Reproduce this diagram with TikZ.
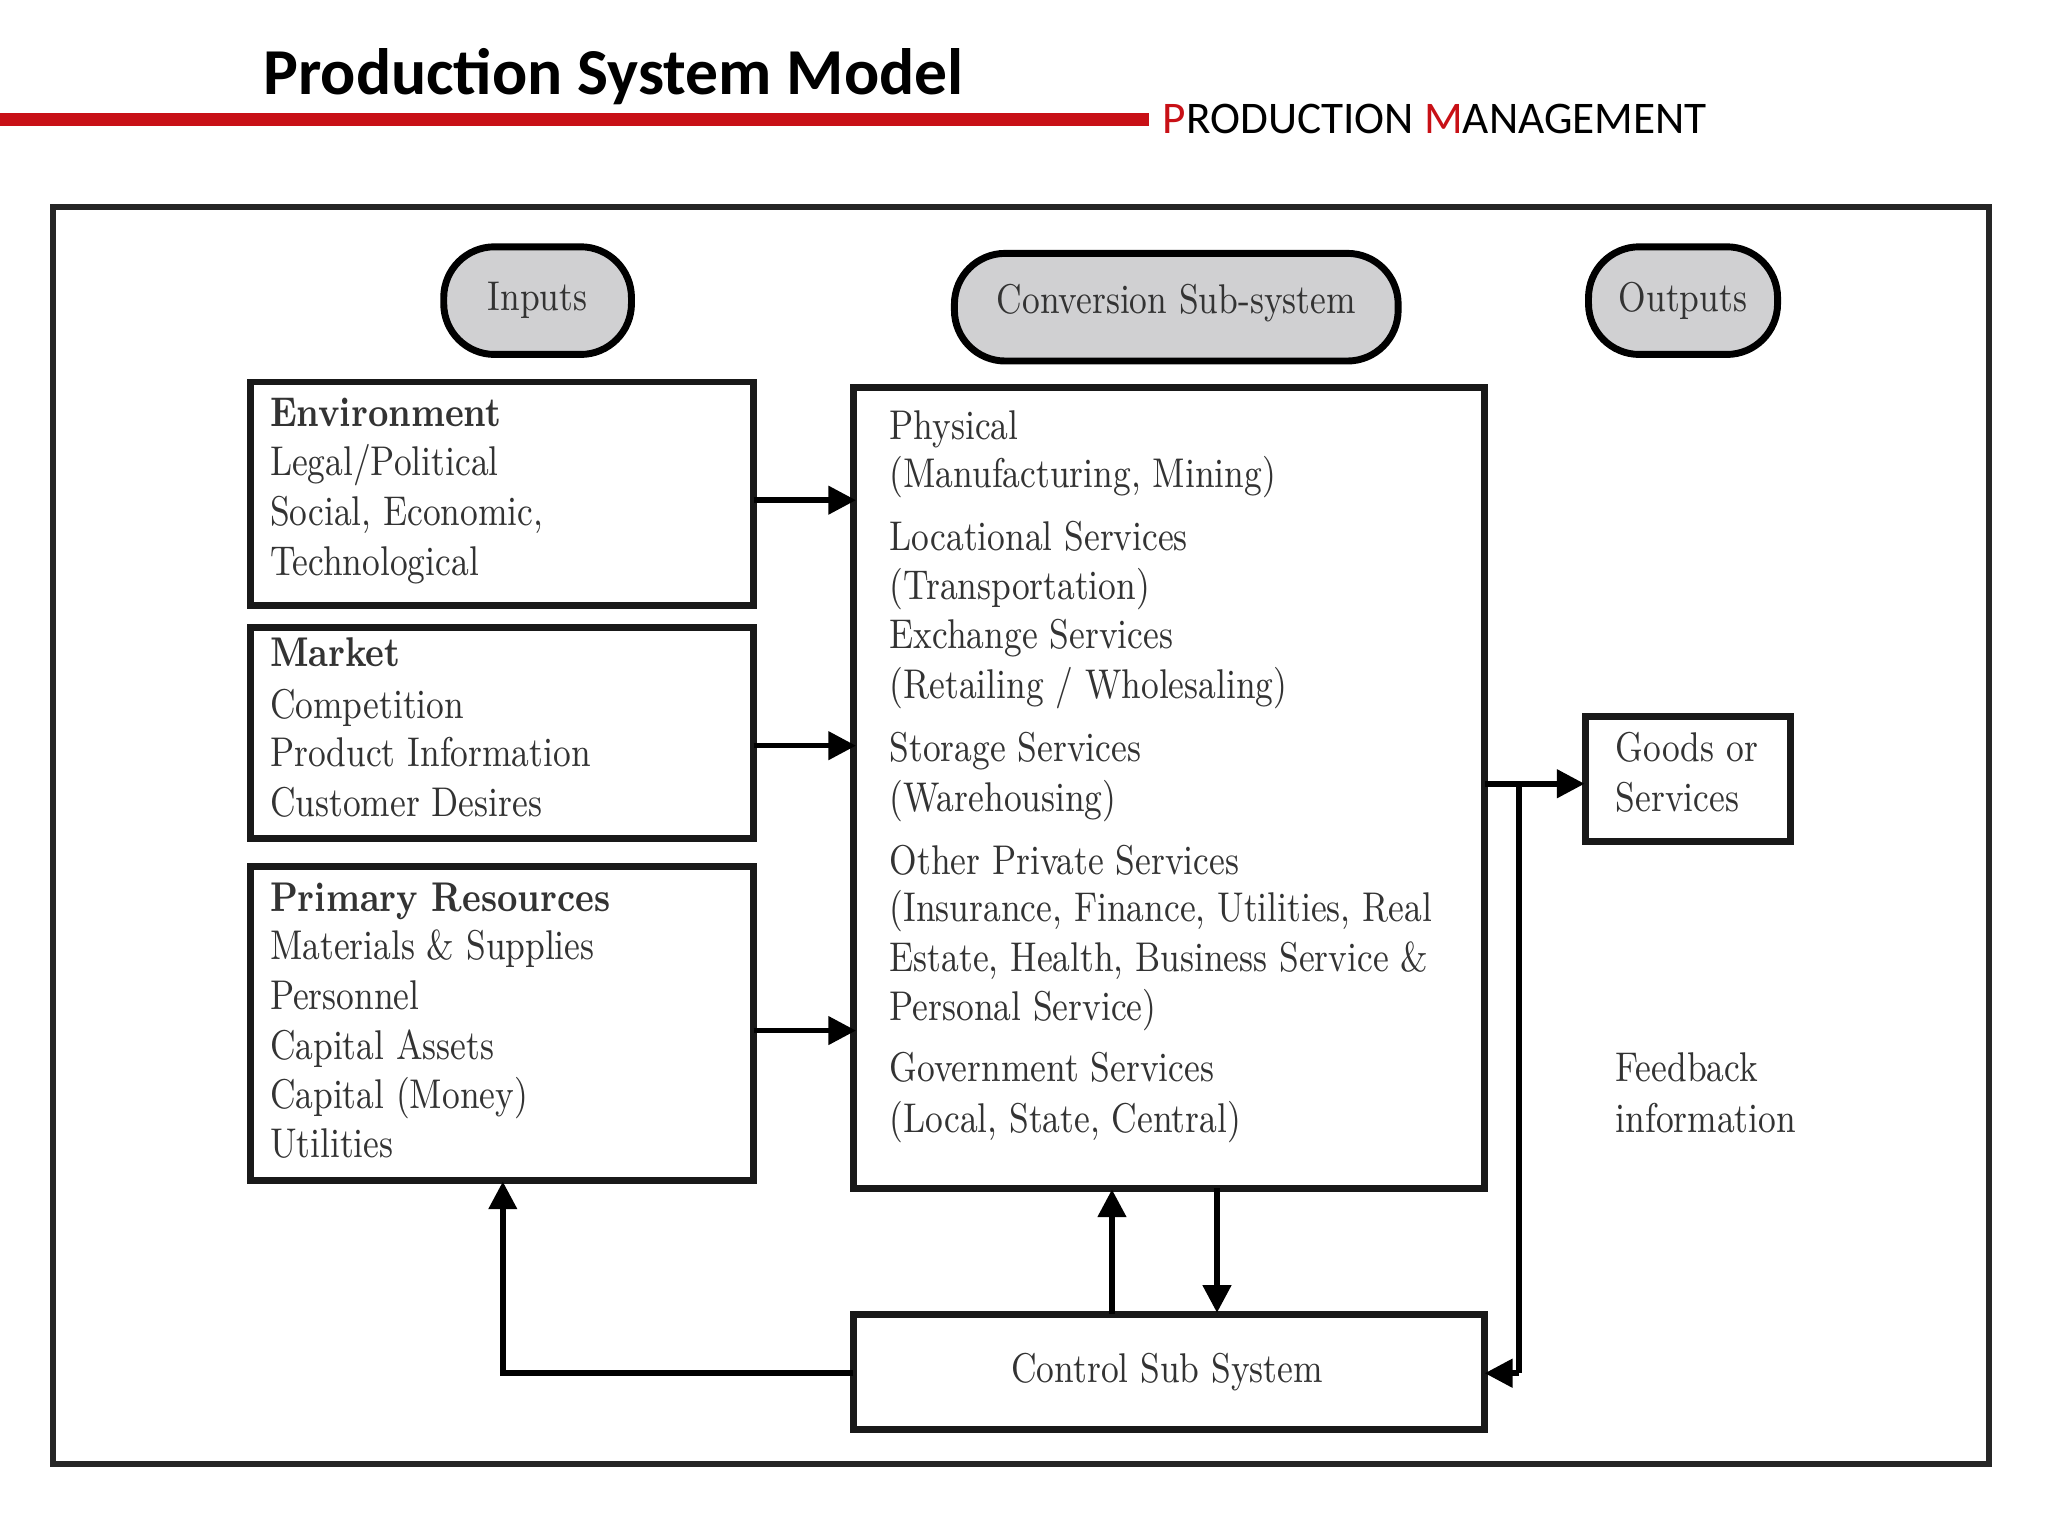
\documentclass[tikz,border=0pt]{standalone}
\usepackage{fontspec}
\newfontfamily\hdfont{Carlito}
\usetikzlibrary{arrows.meta}
\definecolor{hdred}{RGB}{200,16,22}
\definecolor{pill}{RGB}{208,208,210}
\newcommand\nt[1]{\scalebox{0.83}[1]{#1}}
\tikzset{
  box/.style={draw, line width=1.5pt, black!90},
  pillbox/.style={draw, line width=1.5pt, fill=pill, rounded corners=11pt},
  txt/.style={anchor=base west, inner sep=0pt, font=\fontsize{9}{10}\selectfont, text=black!80},
  btxt/.style={txt, font=\fontsize{9}{10}\selectfont\bfseries},
  link/.style={line width=1.2pt, -{Triangle[length=6pt,width=6pt]}},
  plain/.style={line width=1.2pt}
}
\begin{document}
\begin{tikzpicture}[x=0.01cm,y=-0.01cm]
\useasboundingbox (0,0) rectangle (1560,1170);
% header
\node[anchor=base west, inner sep=0pt, font=\hdfont\fontsize{14.2}{16}\selectfont\bfseries] (title) at (200,72) {Production System Model};
\draw[hdred, line width=3pt] (0,91) -- (875,91);
\node[anchor=base west, inner sep=0pt, font=\hdfont\fontsize{9.8}{12}\selectfont] (sub) at (885,102) {\textcolor{hdred}{P}RODUCTION \textcolor{hdred}{M}ANAGEMENT};
% frame
\draw[line width=1.3pt, black!85] (40,158) rectangle (1515,1115);
% pills
\draw[pillbox] (338,188) rectangle (481,270);
\node[txt, anchor=center] (pin) at (409.5,229) {\nt{Inputs}};
\draw[pillbox] (727,193) rectangle (1065,275);
\node[txt, anchor=center] (pconv) at (896,231) {\nt{Conversion Sub-system}};
\draw[pillbox] (1210,188) rectangle (1354,270);
\node[txt, anchor=center] (pout) at (1282,229) {\nt{Outputs}};
% boxes
\draw[box] (191,291) rectangle (574,461);
\draw[box] (191,478) rectangle (574,639);
\draw[box] (191,660) rectangle (574,899);
\draw[box] (650,295) rectangle (1131,905);
\draw[box] (1208,546) rectangle (1364,641);
\draw[box] (650,1001) rectangle (1131,1089);
% input texts
\node[btxt] (e0) at (205,325) {\nt{Environment}};
\node[txt] (e1) at (205,362) {\nt{Legal/Political}};
\node[txt] (e2) at (205,400) {\nt{Social, Economic,}};
\node[txt] (e3) at (205,438) {\nt{Technological}};
\node[btxt] (m0) at (205,508) {\nt{Market}};
\node[txt] (m1) at (205,547) {\nt{Competition}};
\node[txt] (m2) at (205,584) {\nt{Product Information}};
\node[txt] (m3) at (205,622) {\nt{Customer Desires}};
\node[btxt] (r0) at (205,694) {\nt{Primary Resources}};
\node[txt] (r1) at (205,731) {\nt{Materials \& Supplies}};
\node[txt] (r2) at (205,769) {\nt{Personnel}};
\node[txt] (r3) at (205,807) {\nt{Capital Assets}};
\node[txt] (r4) at (205,844) {\nt{Capital (Money)}};
\node[txt] (r5) at (205,882) {\nt{Utilities}};
% conversion texts
\node[txt] (c1) at (677,335) {\nt{Physical}};
\node[txt] (c2) at (677,371) {\nt{(Manufacturing, Mining)}};
\node[txt] (c3) at (677,419) {\nt{Locational Services}};
\node[txt] (c4) at (677,457) {\nt{(Transportation)}};
\node[txt] (c5) at (677,494) {\nt{Exchange Services}};
\node[txt] (c6) at (677,532) {\nt{(Retailing / Wholesaling)}};
\node[txt] (c7) at (677,580) {\nt{Storage Services}};
\node[txt] (c8) at (677,618) {\nt{(Warehousing)}};
\node[txt] (c9) at (677,666) {\nt{Other Private Services}};
\node[txt] (c10) at (677,702) {\nt{(Insurance, Finance, Utilities, Real}};
\node[txt] (c11) at (677,740) {\nt{Estate, Health, Business Service \&}};
\node[txt] (c12) at (677,777) {\nt{Personal Service)}};
\node[txt] (c13) at (677,824) {\nt{Government Services}};
\node[txt] (c14) at (677,863) {\nt{(Local, State, Central)}};
% outputs
\node[txt] (g1) at (1230,580) {\nt{Goods or}};
\node[txt] (g2) at (1230,618) {\nt{Services}};
\node[txt] (f1) at (1230,824) {\nt{Feedback}};
\node[txt] (f2) at (1230,863) {\nt{information}};
\node[txt, anchor=center] (ctl) at (889,1045) {\nt{Control Sub System}};
% connectors
\draw[link] (574,381) -- (652,381);
\draw[link] (574,568) -- (652,568);
\draw[link] (574,785) -- (652,785);
\draw[link] (1131,597) -- (1207,597);
\draw[plain] (1157,597) -- (1157,1046);
\draw[link] (1157,1046) -- (1131,1046);
\draw[link] (650,1046) -- (383,1046) -- (383,900);
\draw[link] (847,1001) -- (847,906);
\draw[link] (927,905) -- (927,1000);
\end{tikzpicture}
\end{document}
